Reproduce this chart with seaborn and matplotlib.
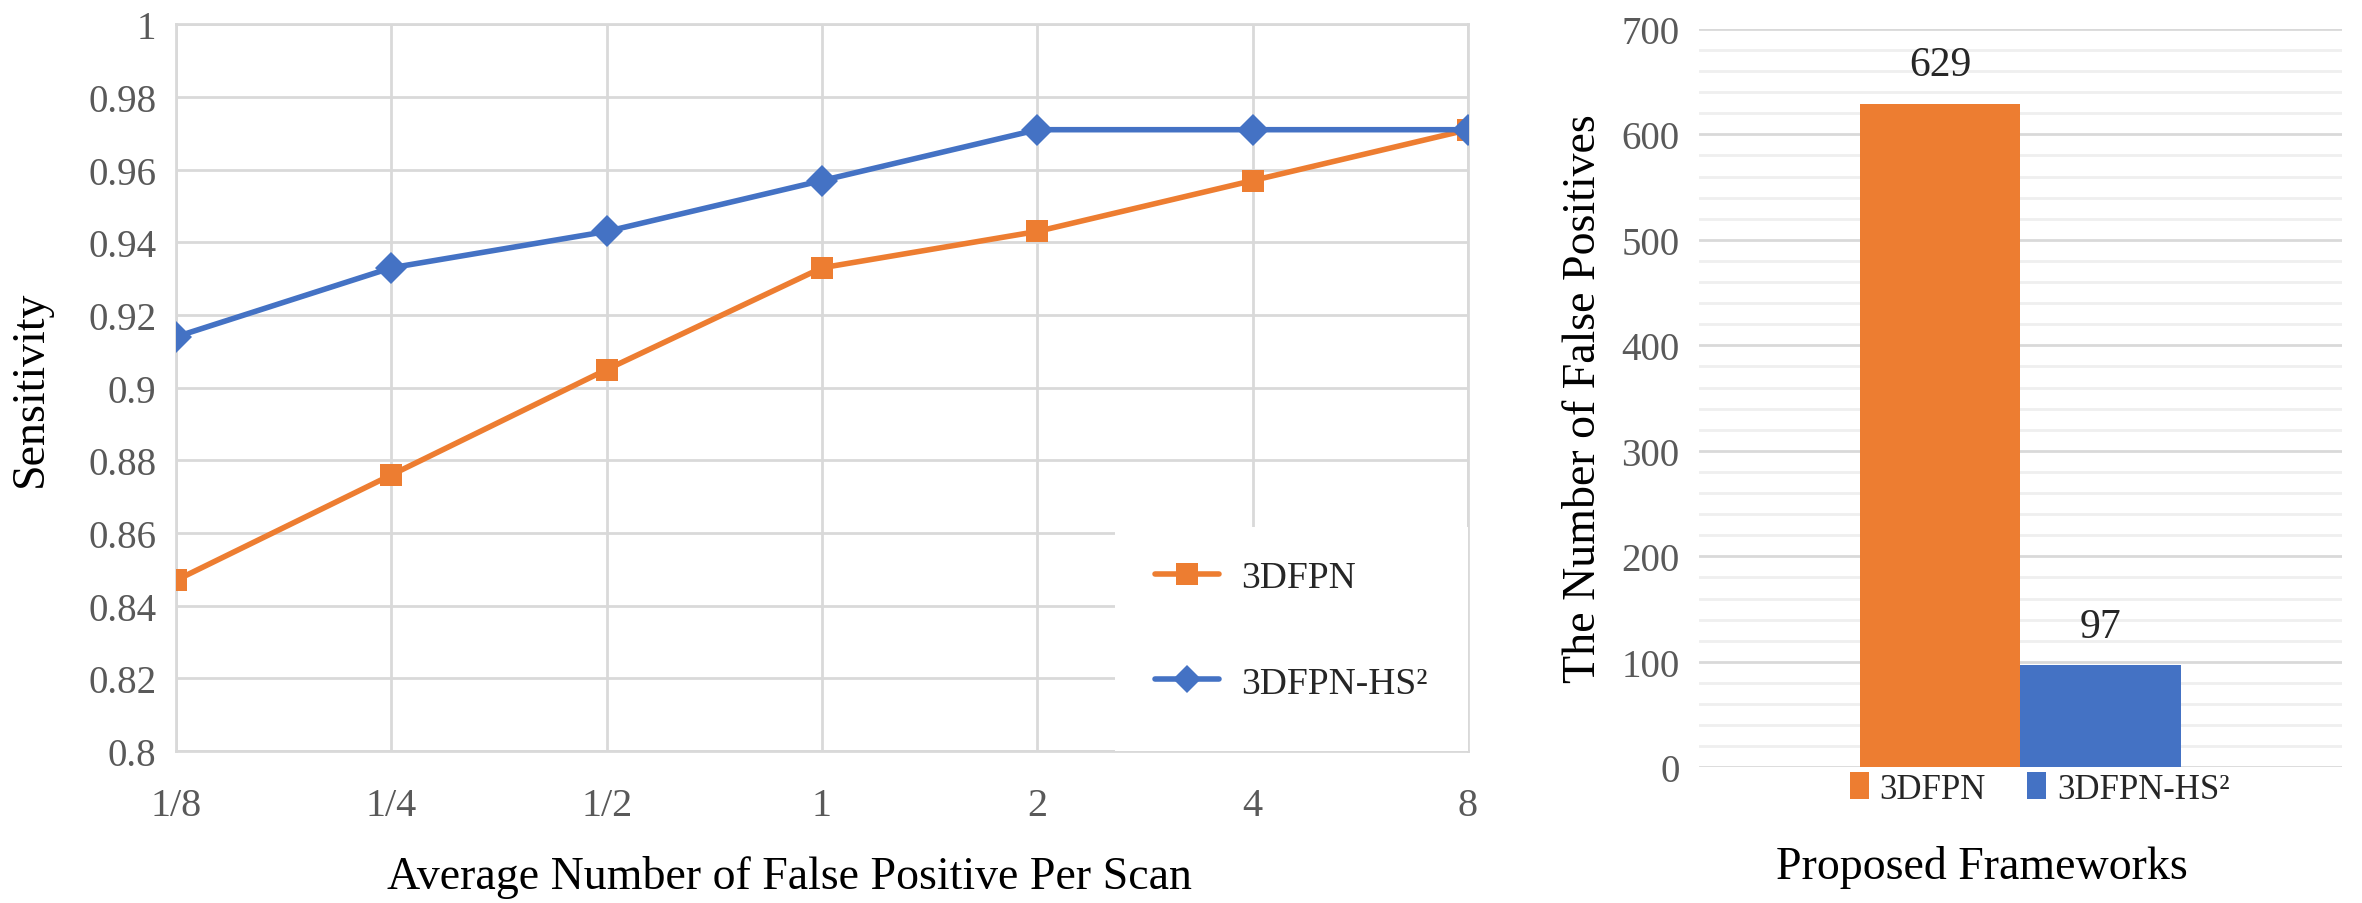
import matplotlib
matplotlib.use("Agg")
import matplotlib.pyplot as plt
import seaborn as sns
import pandas as pd
import numpy as np
from matplotlib.lines import Line2D
from matplotlib.patches import Patch, Rectangle
from matplotlib.ticker import MultipleLocator

# ---------------- data ----------------
fp_labels = ["1/8", "1/4", "1/2", "1", "2", "4", "8"]
sens_3dfpn = [0.847, 0.876, 0.905, 0.933, 0.943, 0.957, 0.971]
sens_hs2 = [0.914, 0.933, 0.943, 0.957, 0.971, 0.971, 0.971]
series_names = ["3DFPN", "3DFPN-HS²"]
fp_counts = [629, 97]
y_ticks_left = [0.8, 0.82, 0.84, 0.86, 0.88, 0.9, 0.92, 0.94, 0.96, 0.98, 1.0]
y_tick_labels_left = ["0.8", "0.82", "0.84", "0.86", "0.88", "0.9", "0.92", "0.94", "0.96", "0.98", "1"]

ORANGE = "#ED7D31"
BLUE = "#4472C4"
GRID = "#D9D9D9"
MINOR = "#EFEFEF"
TICKC = "#595959"

sns.set_theme(style="white")
plt.rcParams["font.family"] = ["Liberation Serif", "DejaVu Serif"]

fig = plt.figure(figsize=(23.62, 9.04), dpi=100)

# ---------------- left: line chart ----------------
ax = fig.add_axes([0.0745, 0.168, 0.547, 0.804])
pos = list(range(len(fp_labels)))
df_line = pd.DataFrame({
    "pos": pos * 2,
    "sens": sens_3dfpn + sens_hs2,
    "model": [series_names[0]] * len(pos) + [series_names[1]] * len(pos),
})
sns.lineplot(data=df_line, x="pos", y="sens", hue="model", style="model",
             palette=[ORANGE, BLUE], markers=["s", "D"], dashes=False,
             markersize=16, linewidth=4, markeredgewidth=0, legend=False,
             ax=ax, zorder=5)
ax.set_xlim(0, len(fp_labels) - 1)
ax.set_ylim(0.8, 1.0)
ax.set_xticks(pos)
ax.set_xticklabels(fp_labels)
ax.set_yticks(y_ticks_left)
ax.set_yticklabels(y_tick_labels_left)
ax.grid(True, color=GRID, linewidth=2)
ax.set_axisbelow(True)
for s in ax.spines.values():
    s.set_color(GRID)
    s.set_linewidth(2)
ax.tick_params(axis="both", length=0, labelsize=28, labelcolor=TICKC, pad=14)
ax.tick_params(axis="x", pad=26, labelsize=29)
ax.set_xlabel("Average Number of False Positive Per Scan", fontsize=33, labelpad=22, color="black")
ax.xaxis.label.set_x(0.475)
ax.set_ylabel("Sensitivity", fontsize=33, labelpad=26, color="black")

# white legend area covering gridlines
ax.add_patch(Rectangle((0.727, 0.0), 0.273, 0.308, transform=ax.transAxes,
                       facecolor="white", edgecolor="none", zorder=3, clip_on=False))
handles = [
    Line2D([0], [0], color=ORANGE, lw=4, marker="s", markersize=16, markeredgewidth=0),
    Line2D([0], [0], color=BLUE, lw=4, marker="D", markersize=14, markeredgewidth=0),
]
leg = ax.legend(handles, series_names, loc="center left", bbox_to_anchor=(0.758, 0.166),
                frameon=False, fontsize=27, handlelength=1.7, handletextpad=0.6,
                labelspacing=1.9, borderpad=0, borderaxespad=0)
leg.set_zorder(6)

# ---------------- right: bar chart ----------------
ax2 = fig.add_axes([0.7193, 0.150, 0.2722, 0.817])
df_bar = pd.DataFrame({"group": ["Proposed"] * 2, "model": series_names, "count": fp_counts})
sns.barplot(data=df_bar, x="group", y="count", hue="model", palette=[ORANGE, BLUE],
            width=1.0, legend=False, ax=ax2, saturation=1, zorder=3, linewidth=0)
ax2.set_xlim(-1, 1)
ax2.set_ylim(0, 700)
ax2.yaxis.set_major_locator(MultipleLocator(100))
ax2.yaxis.set_minor_locator(MultipleLocator(20))
ax2.grid(True, axis="y", which="major", color=GRID, linewidth=2)
ax2.grid(True, axis="y", which="minor", color=MINOR, linewidth=2)
ax2.set_axisbelow(True)
for s in ax2.spines.values():
    s.set_visible(False)
ax2.tick_params(axis="both", which="both", length=0, labelsize=28, labelcolor=TICKC, pad=14)
ax2.set_xticks([])
ax2.set_xlabel("Proposed Frameworks", fontsize=33, labelpad=56, color="black")
ax2.xaxis.label.set_x(0.44)
ax2.set_ylabel("The Number of False Positives", fontsize=33, labelpad=12, color="black")
for cont in ax2.containers:
    ax2.bar_label(cont, fmt="%d", padding=14, fontsize=30, color="#262626")
bh = [Patch(facecolor=ORANGE, edgecolor="none"), Patch(facecolor=BLUE, edgecolor="none")]
ax2.legend(bh, series_names, loc="upper center", bbox_to_anchor=(0.53, 0.012), ncol=2,
           frameon=False, fontsize=25, handlelength=0.55, handleheight=0.8,
           handletextpad=0.3, columnspacing=1.2, borderaxespad=0)

fig.savefig("out.png", dpi=100)
